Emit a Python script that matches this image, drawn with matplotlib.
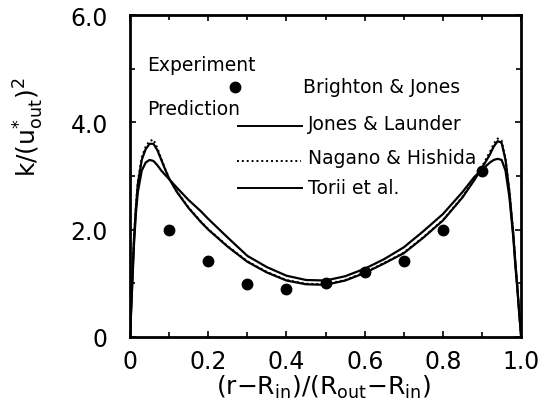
import matplotlib
matplotlib.use("Agg")
import matplotlib.pyplot as plt

plt.rcParams['font.family'] = ['DejaVu Sans']
plt.rcParams['mathtext.fontset'] = 'dejavusans'

# Measured turbulent kinetic energy (Brighton & Jones)
x_exp = [0.1, 0.2, 0.3, 0.4, 0.5, 0.6, 0.7, 0.8, 0.9]
k_exp = [2.0, 1.41, 0.99, 0.89, 1.0, 1.21, 1.41, 2.0, 3.1]

# Predicted profiles across the annular gap
x_pred = [0.0, 0.005, 0.01, 0.015, 0.02, 0.03, 0.04, 0.05, 0.06, 0.07, 0.08,
          0.09, 0.1, 0.12, 0.15, 0.18, 0.2, 0.25, 0.3, 0.35, 0.4, 0.45, 0.5,
          0.55, 0.6, 0.65, 0.7, 0.75, 0.8, 0.85, 0.88, 0.9, 0.92, 0.93, 0.94,
          0.95, 0.96, 0.97, 0.98, 0.985, 0.99, 0.995, 1.0]
k_jones = [0.0, 0.9, 1.8, 2.4, 2.85, 3.3, 3.5, 3.6, 3.6, 3.48, 3.3,
           3.12, 2.95, 2.7, 2.4, 2.15, 2.0, 1.68, 1.40, 1.2, 1.05, 0.98, 0.97,
           1.05, 1.19, 1.37, 1.56, 1.85, 2.17, 2.6, 2.92, 3.15, 3.4, 3.55, 3.65,
           3.62, 3.3, 2.7, 1.9, 1.4, 0.95, 0.45, 0.0]
k_nagano = [0.0, 0.92, 1.85, 2.45, 2.9, 3.35, 3.55, 3.65, 3.68, 3.52, 3.32,
            3.13, 2.96, 2.71, 2.41, 2.16, 2.01, 1.69, 1.41, 1.21, 1.06, 0.99, 0.98,
            1.06, 1.2, 1.38, 1.57, 1.86, 2.18, 2.61, 2.94, 3.18, 3.45, 3.6, 3.7,
            3.66, 3.33, 2.72, 1.92, 1.42, 0.96, 0.46, 0.0]
k_torii = [0.0, 0.85, 1.7, 2.3, 2.7, 3.1, 3.25, 3.3, 3.28, 3.2, 3.1,
           3.02, 2.94, 2.78, 2.55, 2.35, 2.2, 1.85, 1.51, 1.3, 1.14, 1.06, 1.05,
           1.13, 1.27, 1.45, 1.67, 1.97, 2.29, 2.7, 2.98, 3.12, 3.25, 3.3, 3.32,
           3.3, 3.1, 2.6, 1.85, 1.35, 0.92, 0.45, 0.0]

x_ticks = [0, 0.2, 0.4, 0.6, 0.8, 1.0]
x_ticklabels = ['0', '0.2', '0.4', '0.6', '0.8', '1.0']
y_ticks = [0, 2, 4, 6]
y_ticklabels = ['0', '2.0', '4.0', '6.0']

fig = plt.figure(figsize=(5.44, 4.14), dpi=100)
ax = fig.add_axes([0.239, 0.184, 0.719, 0.777])

ax.plot(x_pred, k_jones, color='black', lw=1.6)
ax.plot(x_pred, k_torii, color='black', lw=1.6)
ax.plot(x_pred, k_nagano, color='black', lw=1.4, linestyle=(0, (1, 1.5)))
ax.plot(x_exp, k_exp, 'o', color='black', ms=7.5)

ax.set_xlim(0, 1.0)
ax.set_ylim(0, 6.0)
ax.set_xticks(x_ticks)
ax.set_xticklabels(x_ticklabels)
ax.set_yticks(y_ticks)
ax.set_yticklabels(y_ticklabels)
ax.set_xticks([i / 10 for i in range(11)], minor=True)
ax.set_yticks([1, 3, 5], minor=True)
ax.tick_params(which='both', direction='in', top=True, right=True,
               labelsize=17, width=1.2)
ax.tick_params(which='major', length=4.5)
ax.tick_params(which='minor', length=3.5)
ax.tick_params(axis='x', pad=9)
ax.tick_params(axis='y', pad=16)
for sp in ax.spines.values():
    sp.set_linewidth(2.0)

ax.set_xlabel(r'(r$-$R$_{\mathregular{in}}$)/(R$_{\mathregular{out}}$$-$R$_{\mathregular{in}}$)',
              fontsize=18)
ax.xaxis.set_label_coords(0.494, -0.112)
ax.set_ylabel(r'k/(u$^{*}_{\mathregular{out}}$)$^{2}$', fontsize=18, va='center')
ax.yaxis.set_label_coords(-0.258, 0.655)

# Key drawn inside the plotting area
fs = 13.5
ax.text(0.043, 5.08, 'Experiment', fontsize=fs, va='center', ha='left')
ax.plot([0.269], [4.66], 'o', color='black', ms=7.5)
ax.text(0.442, 4.66, 'Brighton & Jones', fontsize=fs, va='center', ha='left')
ax.text(0.043, 4.25, 'Prediction', fontsize=fs, va='center', ha='left')
ax.plot([0.276, 0.44], [3.93, 3.93], color='black', lw=1.4)
ax.text(0.455, 3.98, 'Jones & Launder', fontsize=fs, va='center', ha='left')
ax.plot([0.274, 0.436], [3.28, 3.28], color='black', lw=1.4, linestyle=(0, (1, 1.5)))
ax.text(0.455, 3.35, 'Nagano & Hishida', fontsize=fs, va='center', ha='left')
ax.plot([0.276, 0.44], [2.77, 2.77], color='black', lw=1.4)
ax.text(0.455, 2.79, 'Torii et al.', fontsize=fs, va='center', ha='left')

fig.savefig('out.png', dpi=100)
